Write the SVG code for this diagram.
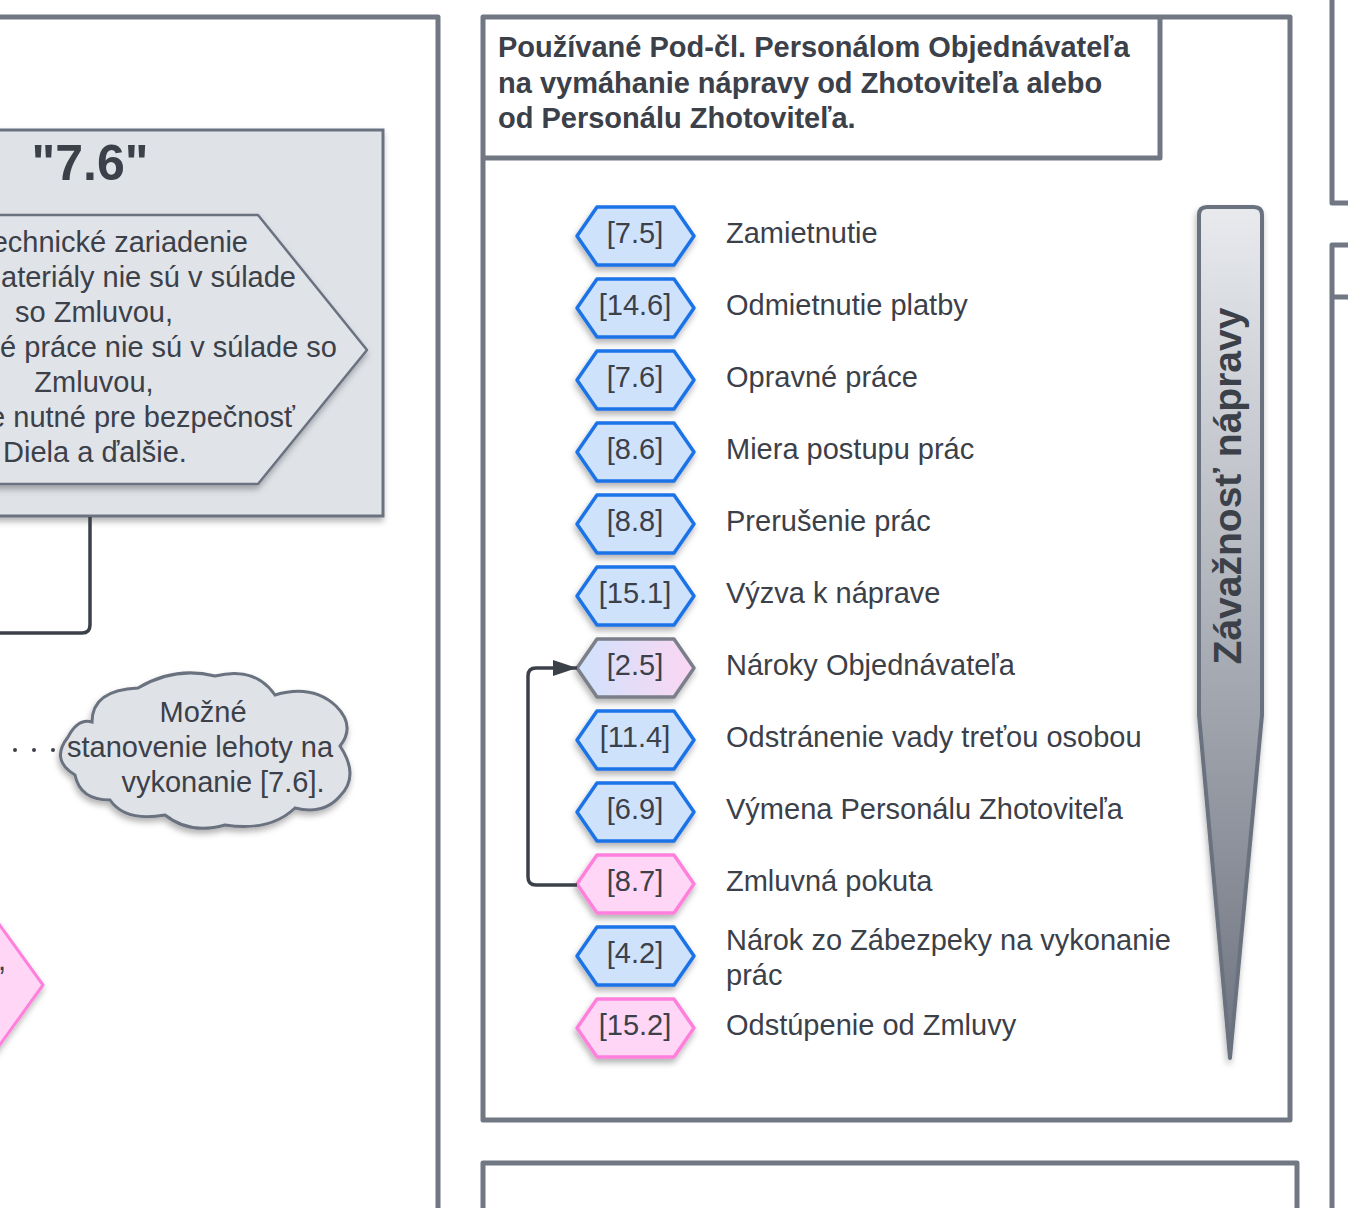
<svg xmlns="http://www.w3.org/2000/svg" width="1348" height="1208" viewBox="0 0 1348 1208">
<style>
.frame{fill:none;stroke:#717783;stroke-width:5;stroke-linejoin:round}
.t{font-family:"Liberation Sans",Arial,sans-serif;font-size:29px;fill:#3b4049}
.b{font-weight:bold}
.hexb{fill:#cfe2fc;stroke:#1a73e8;stroke-width:3.5;stroke-linejoin:round}
.hexp{fill:#ffd6f5;stroke:#ff80dc;stroke-width:3.5;stroke-linejoin:round}
.hexg{fill:url(#gbp);stroke:#7a7f89;stroke-width:3.5;stroke-linejoin:round}
.conn{fill:none;stroke:#3b4049;stroke-width:3.5;stroke-linejoin:round}
</style>
<defs>
<filter id="sh" x="-20%" y="-20%" width="140%" height="150%">
<feDropShadow dx="-1" dy="4" stdDeviation="3" flood-color="#000" flood-opacity="0.3"/>
</filter>
<linearGradient id="gbp" x1="0" y1="0" x2="1" y2="0">
<stop offset="0" stop-color="#cfe2fc"/>
<stop offset="1" stop-color="#fcd6f2"/>
</linearGradient>
<linearGradient id="gsev" x1="0" y1="207" x2="0" y2="1058" gradientUnits="userSpaceOnUse">
<stop offset="0" stop-color="#e8eaee"/>
<stop offset="1" stop-color="#6e7480"/>
</linearGradient>
<marker id="arr" viewBox="0 0 10 10" refX="10" refY="5" markerWidth="24" markerHeight="16" markerUnits="userSpaceOnUse" orient="auto" overflow="visible" preserveAspectRatio="none">
<path d="M0,0 L10,5 L0,10 Z" fill="#3b4049"/>
</marker>
<path id="hex" d="M0,0 L20,-29 L97,-29 L117,0 L97,29 L20,29 Z"/>
</defs>
<rect width="1348" height="1208" fill="#ffffff"/>

<g id="left-container">
<path class="frame" d="M-10,17 H438 V1215"/>
</g>

<g id="box-7-6">
<rect x="-10" y="130" width="393" height="386" fill="#dfe2e7" stroke="#6b7280" stroke-width="3" filter="url(#sh)"/>
<text class="t b" x="90" y="180" text-anchor="middle" style="font-size:50px">"7.6"</text>
</g>

<g id="pentagon">
<path d="M-20,215 L258,215 L367,350 L258,484 L-20,484 Z" fill="#e0e3e8" stroke="#6b7280" stroke-width="2.5" stroke-linejoin="round" filter="url(#sh)"/>
<text class="t" x="248" y="252" text-anchor="end">echnické zariadenie</text>
<text class="t" x="296" y="287" text-anchor="end">ateriály nie sú v súlade</text>
<text class="t" x="94" y="322" text-anchor="middle">so Zmluvou,</text>
<text class="t" x="337" y="357" text-anchor="end">é práce nie sú v súlade so</text>
<text class="t" x="94" y="392" text-anchor="middle">Zmluvou,</text>
<text class="t" x="295" y="427" text-anchor="end">e nutné pre bezpečnosť</text>
<text class="t" x="95" y="462" text-anchor="middle">Diela a ďalšie.</text>
</g>

<g id="cloud">
<path d="M75,775 Q50,760 68,737 Q78,718 92,722 Q92,690 138,688 Q175,666 215,676 Q255,666 275,695 Q312,684 336,706 Q356,726 340,746 Q360,776 340,796 Q324,815 295,808 Q270,832 225,825 Q190,835 165,815 Q125,822 110,800 Q80,800 75,775 Z" fill="#dfe2e7" stroke="#6b7280" stroke-width="3" filter="url(#sh)"/>
<text class="t" x="203" y="722" text-anchor="middle">Možné</text>
<text class="t" x="200" y="757" text-anchor="middle">stanovenie lehoty na</text>
<text class="t" x="223" y="792" text-anchor="middle">vykonanie [7.6].</text>
</g>

<g id="pink-diamond">
<path d="M-40,870 L43,985 L-40,1100 Z" fill="#ffd6f5" stroke="#ff80dc" stroke-width="3" stroke-linejoin="round" filter="url(#sh)"/>
<text class="t" x="6" y="970" text-anchor="end">,</text>
</g>

<g id="middle-container">
<path class="frame" d="M483,17 H1290 V1120 H483 Z"/>
<path class="frame" d="M483,158 H1160 V17"/>
<text class="t b" x="498" y="57">Používané Pod-čl. Personálom Objednávateľa</text>
<text class="t b" x="498" y="93">na vymáhanie nápravy od Zhotoviteľa alebo</text>
<text class="t b" x="498" y="128">od Personálu Zhotoviteľa.</text>
</g>

<g id="badge-7-5"><use href="#hex" x="577" y="236" class="hexb" filter="url(#sh)"/><text class="t" x="635" y="243" text-anchor="middle">[7.5]</text><text class="t" x="726" y="243">Zamietnutie</text></g>
<g id="badge-14-6"><use href="#hex" x="577" y="308" class="hexb" filter="url(#sh)"/><text class="t" x="635" y="315" text-anchor="middle">[14.6]</text><text class="t" x="726" y="315">Odmietnutie platby</text></g>
<g id="badge-7-6"><use href="#hex" x="577" y="380" class="hexb" filter="url(#sh)"/><text class="t" x="635" y="387" text-anchor="middle">[7.6]</text><text class="t" x="726" y="387">Opravné práce</text></g>
<g id="badge-8-6"><use href="#hex" x="577" y="452" class="hexb" filter="url(#sh)"/><text class="t" x="635" y="459" text-anchor="middle">[8.6]</text><text class="t" x="726" y="459">Miera postupu prác</text></g>
<g id="badge-8-8"><use href="#hex" x="577" y="524" class="hexb" filter="url(#sh)"/><text class="t" x="635" y="531" text-anchor="middle">[8.8]</text><text class="t" x="726" y="531">Prerušenie prác</text></g>
<g id="badge-15-1"><use href="#hex" x="577" y="596" class="hexb" filter="url(#sh)"/><text class="t" x="635" y="603" text-anchor="middle">[15.1]</text><text class="t" x="726" y="603">Výzva k náprave</text></g>
<g id="badge-2-5"><use href="#hex" x="577" y="668" class="hexg" filter="url(#sh)"/><text class="t" x="635" y="675" text-anchor="middle">[2.5]</text><text class="t" x="726" y="675">Nároky Objednávateľa</text></g>
<g id="badge-11-4"><use href="#hex" x="577" y="740" class="hexb" filter="url(#sh)"/><text class="t" x="635" y="747" text-anchor="middle">[11.4]</text><text class="t" x="726" y="747">Odstránenie vady treťou osobou</text></g>
<g id="badge-6-9"><use href="#hex" x="577" y="812" class="hexb" filter="url(#sh)"/><text class="t" x="635" y="819" text-anchor="middle">[6.9]</text><text class="t" x="726" y="819">Výmena Personálu Zhotoviteľa</text></g>
<g id="badge-8-7"><use href="#hex" x="577" y="884" class="hexp" filter="url(#sh)"/><text class="t" x="635" y="891" text-anchor="middle">[8.7]</text><text class="t" x="726" y="891">Zmluvná pokuta</text></g>
<g id="badge-4-2"><use href="#hex" x="577" y="956" class="hexb" filter="url(#sh)"/><text class="t" x="635" y="963" text-anchor="middle">[4.2]</text><text class="t" x="726" y="950">Nárok zo Zábezpeky na vykonanie</text><text class="t" x="726" y="985">prác</text></g>
<g id="badge-15-2"><use href="#hex" x="577" y="1028" class="hexp" filter="url(#sh)"/><text class="t" x="635" y="1035" text-anchor="middle">[15.2]</text><text class="t" x="726" y="1035">Odstúpenie od Zmluvy</text></g>

<g id="severity">
<path d="M1199,215 Q1199,207 1207,207 H1254 Q1262,207 1262,215 V715 L1230,1058 L1199,715 Z" fill="url(#gsev)" stroke="#6b7280" stroke-width="4" stroke-linejoin="round" filter="url(#sh)"/>
<text class="t b" transform="translate(1241,486) rotate(-90)" text-anchor="middle" style="font-size:39px">Závažnosť nápravy</text>
</g>

<g id="right-fragments">
<path class="frame" d="M1332,-10 V203 H1355"/>
<path class="frame" d="M1355,245 H1332 V1215"/>
<path class="frame" d="M1332,297 H1355"/>
</g>

<g id="bottom-box">
<path class="frame" d="M483,1215 V1163 H1297 V1215"/>
</g>

<g id="connectors">
<path class="conn" d="M577,885 H536 Q528,885 528,877 V676 Q528,668 536,668 H577" marker-end="url(#arr)"/>
<path class="conn" d="M90,517 V625 Q90,633 82,633 H-10"/>
<path d="M53,750 H-5" fill="none" stroke="#3b4049" stroke-width="4" stroke-linecap="round" stroke-dasharray="0 19"/>
</g>
</svg>
